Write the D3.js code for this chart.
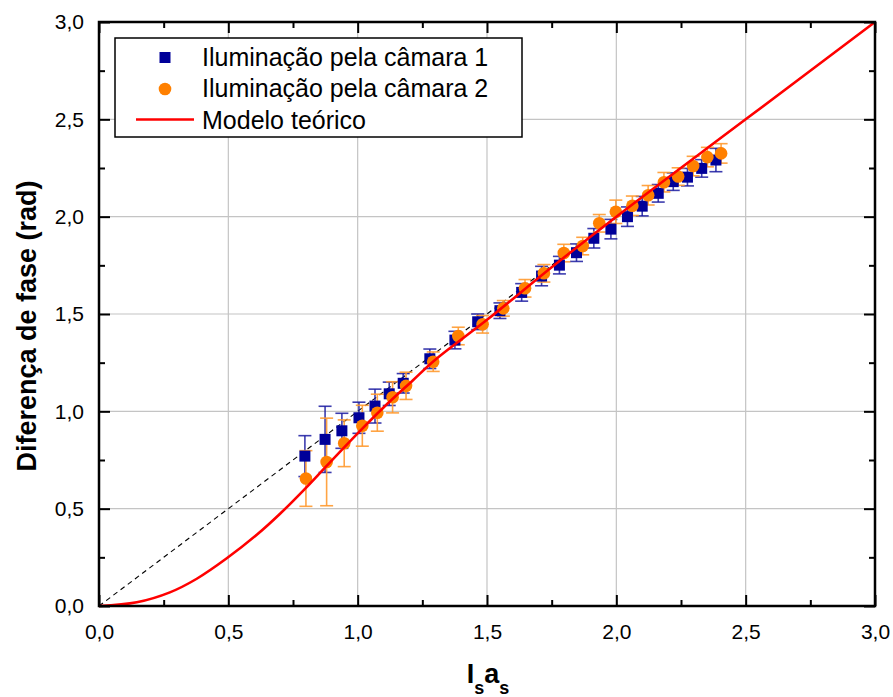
<!DOCTYPE html>
<html>
<head>
<meta charset="utf-8">
<script src="https://cdnjs.cloudflare.com/ajax/libs/d3/7.8.5/d3.min.js"></script>
<style>
  body { margin: 0; background: #fff; }
  svg { display: block; font-family: "Liberation Sans", Arial, Helvetica, sans-serif; }
</style>
</head>
<body>
<svg id="chart" width="893" height="697"></svg>
<script>
// camera 1 (blue squares)
var cam1X   = [0.796, 0.874, 0.939, 1.005, 1.067, 1.122, 1.176, 1.279, 1.376, 1.464, 1.550, 1.634, 1.711, 1.780, 1.846, 1.913, 1.979, 2.043, 2.100, 2.162, 2.220, 2.275, 2.330, 2.385];
var cam1Y   = [0.770, 0.856, 0.900, 0.967, 1.027, 1.090, 1.144, 1.270, 1.366, 1.460, 1.517, 1.611, 1.695, 1.751, 1.815, 1.889, 1.936, 2.000, 2.054, 2.120, 2.180, 2.203, 2.248, 2.291];
var cam1Err = [0.105, 0.170, 0.090, 0.080, 0.087, 0.060, 0.050, 0.050, 0.045, 0.040, 0.040, 0.045, 0.050, 0.045, 0.045, 0.050, 0.050, 0.050, 0.050, 0.045, 0.045, 0.045, 0.045, 0.060];

// camera 2 (orange circles)
var cam2X   = [0.800, 0.880, 0.948, 1.018, 1.076, 1.135, 1.187, 1.292, 1.389, 1.483, 1.563, 1.647, 1.720, 1.797, 1.870, 1.934, 1.998, 2.062, 2.123, 2.184, 2.239, 2.297, 2.352, 2.405];
var cam2Y   = [0.655, 0.740, 0.836, 0.926, 0.993, 1.072, 1.131, 1.255, 1.387, 1.447, 1.529, 1.632, 1.709, 1.813, 1.849, 1.966, 2.025, 2.056, 2.110, 2.177, 2.206, 2.260, 2.306, 2.325];
var cam2Err = [0.143, 0.225, 0.120, 0.105, 0.095, 0.080, 0.070, 0.050, 0.045, 0.045, 0.040, 0.045, 0.045, 0.045, 0.045, 0.045, 0.060, 0.050, 0.050, 0.050, 0.045, 0.050, 0.050, 0.050];

// theoretical model (red)
var modelX = [0, 0.146, 0.274, 0.378, 0.494, 0.610, 0.700, 0.800, 0.880, 1.000, 1.100, 1.214, 1.300, 1.500, 1.750, 2.000, 2.500, 3.000];
var modelY = [0, 0.019, 0.070, 0.140, 0.245, 0.366, 0.474, 0.607, 0.720, 0.887, 1.020, 1.160, 1.265, 1.470, 1.740, 2.000, 2.500, 3.000];

// reference line y = x (dashed)
var refX = [0, 3];
var refY = [0, 3];

var majorTicks = [0, 0.5, 1, 1.5, 2, 2.5, 3];
var minorTicks = [0.25, 0.75, 1.25, 1.75, 2.25, 2.75];

var legendLabels = ["Iluminação pela câmara 1", "Iluminação pela câmara 2", "Modelo teórico"];

(function() {
  var BLUE = "#000099", ORANGE = "#ff8000", RED = "#ff0000";

  var svg = d3.select("#chart");
  var mLeft = 99, mRight = 875, mTop = 22, mBottom = 606;

  var x = d3.scaleLinear().domain([0, 3]).range([mLeft, mRight]);
  var y = d3.scaleLinear().domain([0, 3]).range([mBottom, mTop]);
  var fmt = function(d) { return d3.format(".1f")(d).replace(".", ","); };

  // grid
  var grid = svg.append("g").attr("class", "grid");
  grid.selectAll("line.gx").data(majorTicks.slice(1, -1)).enter().append("line")
    .attr("class", "gx")
    .attr("x1", d => x(d)).attr("x2", d => x(d)).attr("y1", mTop).attr("y2", mBottom);
  grid.selectAll("line.gy").data(majorTicks.slice(1, -1)).enter().append("line")
    .attr("class", "gy")
    .attr("y1", d => y(d)).attr("y2", d => y(d)).attr("x1", mLeft).attr("x2", mRight);
  grid.selectAll("line").attr("stroke", "#c4c4c4").attr("stroke-width", 1.2);

  // dashed y = x
  svg.append("path")
    .datum(d3.zip(refX, refY))
    .attr("fill", "none").attr("stroke", "#000").attr("stroke-width", 1.1)
    .attr("stroke-dasharray", "5,4")
    .attr("d", d3.line().x(d => x(d[0])).y(d => y(d[1])));

  function errorBars(xs, ys, es, color, op) {
    var g = svg.append("g");
    var pts = d3.range(xs.length).map(i => ({x: xs[i], y: ys[i], e: es[i]}));
    var cap = 6.5;
    g.selectAll("line.v").data(pts).enter().append("line").attr("class", "v")
      .attr("x1", d => x(d.x)).attr("x2", d => x(d.x))
      .attr("y1", d => y(d.y - d.e)).attr("y2", d => y(d.y + d.e));
    g.selectAll("line.t").data(pts).enter().append("line").attr("class", "t")
      .attr("x1", d => x(d.x) - cap).attr("x2", d => x(d.x) + cap)
      .attr("y1", d => y(d.y + d.e)).attr("y2", d => y(d.y + d.e));
    g.selectAll("line.b").data(pts).enter().append("line").attr("class", "b")
      .attr("x1", d => x(d.x) - cap).attr("x2", d => x(d.x) + cap)
      .attr("y1", d => y(d.y - d.e)).attr("y2", d => y(d.y - d.e));
    g.selectAll("line").attr("stroke", color).attr("stroke-width", 1.6).attr("stroke-opacity", op);
    return pts;
  }

  var p1 = errorBars(cam1X, cam1Y, cam1Err, "#1a1aa0", 0.85);
  var p2 = errorBars(cam2X, cam2Y, cam2Err, "#ff9a30", 0.9);

  svg.append("g").selectAll("rect").data(p1).enter().append("rect")
    .attr("x", d => x(d.x) - 5.5).attr("y", d => y(d.y) - 5.5)
    .attr("width", 11).attr("height", 11).attr("fill", BLUE);

  svg.append("g").selectAll("circle").data(p2).enter().append("circle")
    .attr("cx", d => x(d.x)).attr("cy", d => y(d.y)).attr("r", 6.3)
    .attr("fill", ORANGE);

  // model curve
  svg.append("path")
    .datum(d3.zip(modelX, modelY))
    .attr("fill", "none").attr("stroke", RED).attr("stroke-width", 2.6)
    .attr("d", d3.line().curve(d3.curveCatmullRom.alpha(0.5)).x(d => x(d[0])).y(d => y(d[1])));

  // axes: ticks point inward, mirrored on top/right
  function styleAxis(g) {
    g.select(".domain").remove();
    g.attr("font-family", null).attr("font-size", null);
    g.selectAll(".tick line").attr("stroke", "#000").attr("stroke-width", 2);
    g.selectAll(".tick text").attr("fill", "#000").style("font-size", "21px");
  }
  function addAxis(axis, tr) {
    svg.append("g").attr("transform", tr).call(axis).call(styleAxis);
  }
  var tb = "translate(0," + mBottom + ")", tt = "translate(0," + mTop + ")";
  var tl = "translate(" + mLeft + ",0)", tr = "translate(" + mRight + ",0)";
  addAxis(d3.axisBottom(x).tickValues(majorTicks).tickSize(-11).tickPadding(18).tickFormat(fmt), tb);
  addAxis(d3.axisBottom(x).tickValues(minorTicks).tickSize(-6).tickFormat(""), tb);
  addAxis(d3.axisLeft(y).tickValues(majorTicks).tickSize(-11).tickPadding(15).tickFormat(fmt), tl);
  addAxis(d3.axisLeft(y).tickValues(minorTicks).tickSize(-6).tickFormat(""), tl);
  addAxis(d3.axisTop(x).tickValues(majorTicks).tickSize(-11).tickFormat(""), tt);
  addAxis(d3.axisTop(x).tickValues(minorTicks).tickSize(-6).tickFormat(""), tt);
  addAxis(d3.axisRight(y).tickValues(majorTicks).tickSize(-11).tickFormat(""), tr);
  addAxis(d3.axisRight(y).tickValues(minorTicks).tickSize(-6).tickFormat(""), tr);

  // frame
  svg.append("rect")
    .attr("x", mLeft).attr("y", mTop).attr("width", mRight - mLeft).attr("height", mBottom - mTop)
    .attr("fill", "none").attr("stroke", "#000").attr("stroke-width", 2.5);

  // axis titles
  svg.append("text")
    .attr("transform", "translate(36,326) rotate(-90)")
    .attr("text-anchor", "middle")
    .style("font-size", "27px").style("font-weight", "bold")
    .text("Diferença de fase (rad)");

  var xt = svg.append("text")
    .attr("x", 488).attr("y", 683)
    .attr("text-anchor", "middle")
    .style("font-size", "27px").style("font-weight", "bold");
  xt.append("tspan").text("I");
  xt.append("tspan").attr("dy", 11).style("font-size", "18px").text("s");
  xt.append("tspan").attr("dy", -11).text("a");
  xt.append("tspan").attr("dy", 11).style("font-size", "18px").text("s");

  // legend
  var lg = svg.append("g");
  lg.append("rect").attr("x", 115).attr("y", 38).attr("width", 407).attr("height", 99)
    .attr("fill", "#fff").attr("stroke", "#000").attr("stroke-width", 1.5);
  var rowY = [57.5, 89, 119.5];
  lg.append("rect").attr("x", 159.5).attr("y", rowY[0] - 5.5).attr("width", 11).attr("height", 11).attr("fill", BLUE);
  lg.append("circle").attr("cx", 165).attr("cy", rowY[1]).attr("r", 6.3).attr("fill", ORANGE);
  lg.append("line").attr("x1", 136).attr("x2", 194).attr("y1", rowY[2]).attr("y2", rowY[2])
    .attr("stroke", RED).attr("stroke-width", 2.6);
  lg.selectAll("text").data(legendLabels).enter().append("text")
    .attr("x", 202).attr("y", (d, i) => [65.7, 97.3, 129][i])
    .style("font-size", "25px")
    .text(d => d);
})();
</script>
</body>
</html>
